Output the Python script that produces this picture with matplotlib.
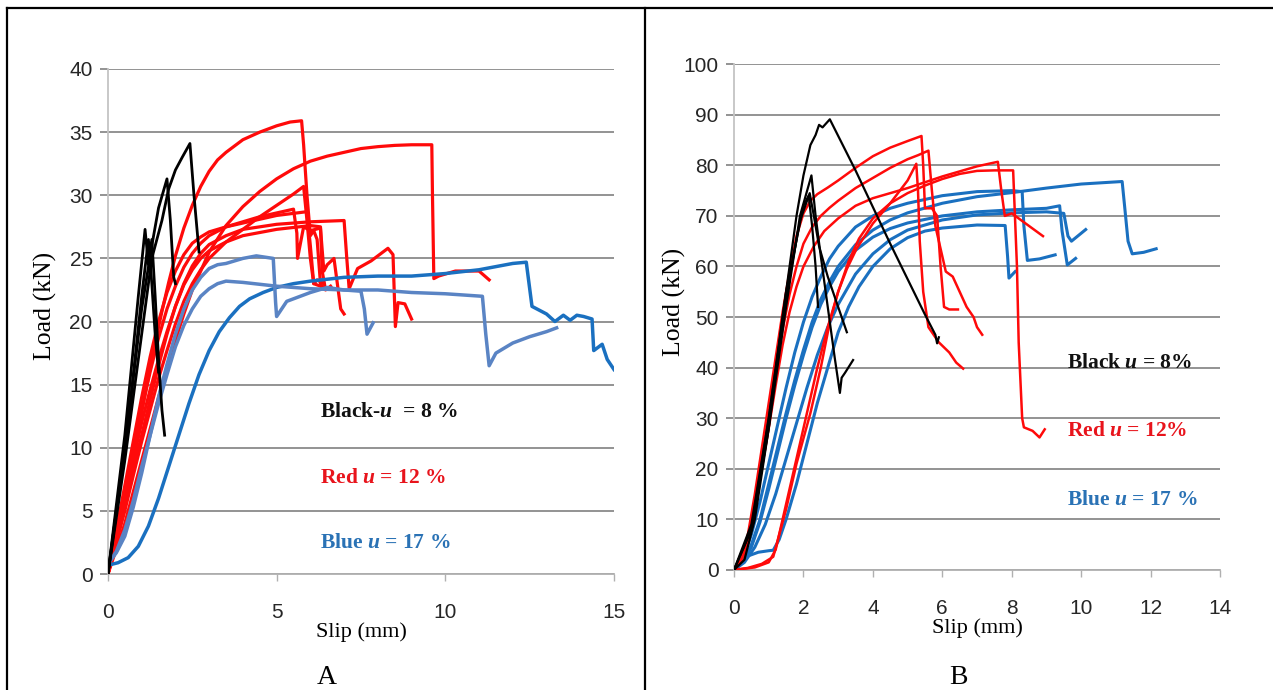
import matplotlib
matplotlib.use("Agg")
import matplotlib.pyplot as plt

# ---------------- panel A : slip (mm) vs load (kN) ----------------
a_xticks = [0, 5, 10, 15]
a_yticks = [0, 5, 10, 15, 20, 25, 30, 35, 40]

# black, u = 8 %
a_k1_x = [0, 0.5, 1.0, 1.3, 1.6, 1.8, 2.0, 2.2, 2.43, 2.55, 2.7]
a_k1_y = [0, 9, 19, 25, 28, 30.5, 32, 33, 34.1, 30, 25.5]
a_k2_x = [0, 0.5, 1.0, 1.3, 1.5, 1.75, 1.85, 1.95, 2.0]
a_k2_y = [0, 10, 21, 26, 29, 31.3, 28, 23.5, 23]
a_k3_x = [0, 0.5, 0.9, 1.1, 1.2, 1.3, 1.4, 1.5, 1.6, 1.68]
a_k3_y = [0, 11, 22, 27.3, 24.5, 26.5, 22, 17, 13, 11]
a_k4_x = [0, 0.6, 1.0, 1.2, 1.3, 1.4, 1.5]
a_k4_y = [0, 12, 22, 26.5, 23, 19, 16]

# red, u = 12 %
a_r1_x = [0, 0.2, 0.4, 0.6, 0.8, 1.0, 1.2, 1.4, 1.6, 1.8, 2.0, 2.25, 2.5, 2.75, 3.0, 3.25, 3.5, 3.75, 4.0, 4.5,
          5.0, 5.4, 5.74, 5.8, 5.9, 6.0, 6.1, 6.2, 6.3, 6.4]
a_r1_y = [0, 2.1, 4.5, 7.2, 10, 12.8, 15.6, 18.3, 20.8, 23.1, 25.2, 27.4, 29.2, 30.7, 31.9, 32.8, 33.4, 33.9, 34.4,
          35.0, 35.5, 35.8, 35.9, 34, 30, 26.8, 27.2, 26.5, 23, 22.6]
a_r2_x = [0, 0.25, 0.5, 0.75, 1, 1.25, 1.5, 1.75, 2, 2.25, 2.5, 2.75, 3, 3.5, 4, 4.5, 5, 5.5, 6, 6.5, 7, 7.5, 8,
          8.5, 9, 9.6, 9.62, 9.66, 9.8, 10.3, 11, 11.3]
a_r2_y = [0, 2, 4, 6.5, 9, 11.5, 14, 16.3, 18.5, 20.6, 22.5, 24, 25.5, 27.6, 29.1, 30.3, 31.3, 32.1, 32.7, 33.1,
          33.4, 33.7, 33.85, 33.95, 34, 34, 30, 23.4, 23.6, 24, 24, 23.3]
a_r3_x = [0, 0.25, 0.5, 0.75, 1, 1.25, 1.5, 1.75, 2, 2.25, 2.5, 2.75, 3, 3.5, 4, 4.5, 5, 5.5, 5.8, 5.9, 6.0, 6.1,
          6.2, 6.4]
a_r3_y = [0, 2.5, 5, 7.8, 10.5, 13, 15.5, 17.7, 19.8, 21.6, 23, 24.1, 25, 26.3, 27.3, 28.3, 29.2, 30.1, 30.7, 28,
          25, 23, 23.3, 23]
a_r4_x = [0, 0.25, 0.5, 0.75, 1, 1.25, 1.5, 1.75, 2, 2.25, 2.5, 2.75, 3, 3.5, 4, 5, 6, 7.0, 7.08, 7.15, 7.4, 7.8,
          8.3, 8.45, 8.52, 8.6, 8.8, 9.0]
a_r4_y = [0, 3, 6, 9, 12, 14.6, 17, 19.2, 21.2, 23, 24.4, 25.4, 26.1, 26.8, 27.3, 27.7, 27.9, 28, 25, 22.6, 24.2,
          24.8, 25.8, 25.3, 19.6, 21.5, 21.4, 20.2]
a_r5_x = [0, 0.25, 0.5, 0.75, 1, 1.25, 1.5, 1.75, 2, 2.25, 2.5, 2.75, 3, 3.5, 4, 4.5, 5, 5.5, 5.6, 5.62, 5.8, 6.0,
          6.3, 6.4, 6.5, 6.7, 6.8, 6.9, 7.0]
a_r5_y = [0, 3.2, 6.5, 9.8, 13, 16, 18.7, 21, 22.8, 24.3, 25.4, 26.2, 26.8, 27.5, 27.9, 28.3, 28.6, 28.9, 27, 25,
          27.5, 27.2, 27.4, 24, 24.5, 25, 23, 21, 20.6]
a_r6_x = [0, 0.25, 0.5, 0.75, 1, 1.25, 1.5, 1.75, 2, 2.25, 2.5, 2.75, 3, 3.5, 4, 5, 6, 6.3, 6.35, 6.45, 6.6]
a_r6_y = [0, 2.7, 5.5, 8.3, 11, 13.8, 16.5, 19, 21.2, 22.9, 24.1, 25, 25.6, 26.3, 26.8, 27.3, 27.6, 27.5, 24,
          22.5, 22.8]
a_r7_x = [0, 0.25, 0.5, 0.75, 1, 1.25, 1.5, 1.75, 2, 2.25, 2.5, 2.75, 3, 3.5, 4, 5, 5.9, 6.0, 6.1, 6.3]
a_r7_y = [0, 3.5, 7, 10.5, 14, 17.2, 20, 22.3, 24, 25.3, 26.2, 26.7, 27.1, 27.5, 27.8, 28.4, 28.7, 26, 23, 22.8]

# blue, u = 17 %
a_b1_x = [0, 0.3, 0.6, 0.9, 1.2, 1.5, 1.8, 2.1, 2.4, 2.7, 3.0, 3.3, 3.6, 3.9, 4.2, 4.6, 5.0, 5.5, 6, 7, 8, 9, 10,
          11, 12, 12.4, 12.57, 13.0, 13.25, 13.5, 13.7, 13.9, 14.1, 14.35, 14.4, 14.65, 14.8, 15.0]
a_b1_y = [0.7, 0.9, 1.3, 2.2, 3.8, 6, 8.5, 11, 13.5, 15.8, 17.7, 19.2, 20.3, 21.2, 21.8, 22.3, 22.7, 23.0, 23.2,
          23.5, 23.6, 23.6, 23.8, 24.1, 24.6, 24.7, 21.2, 20.6, 20.0, 20.5, 20.1, 20.5, 20.4, 20.2, 17.7, 18.2,
          17.0, 16.2]
a_b2_x = [0, 0.25, 0.5, 0.75, 1, 1.25, 1.5, 1.75, 2, 2.25, 2.5, 2.75, 3, 3.25, 3.5, 4, 5, 6, 7, 8, 9, 10, 11.1,
          11.2, 11.3, 11.5, 12, 12.5, 13, 13.3]
a_b2_y = [0.8, 1.8, 3.5, 5.8, 8.5, 11, 13.5, 15.8, 18, 19.7, 21, 22, 22.6, 23, 23.2, 23.1, 22.8, 22.6, 22.5, 22.5,
          22.3, 22.2, 22.0, 19, 16.5, 17.5, 18.3, 18.8, 19.2, 19.5]
a_b3_x = [0, 0.25, 0.5, 0.75, 1, 1.25, 1.5, 1.75, 2, 2.25, 2.5, 2.75, 3, 3.25, 3.5, 4, 4.4, 4.9, 4.97, 5.0, 5.3,
          6, 6.5, 7, 7.5, 7.6, 7.68, 7.86]
a_b3_y = [0.8, 1.7, 3, 5.3, 8, 11, 14, 16.6, 19, 21, 22.5, 23.5, 24.2, 24.5, 24.6, 25, 25.2, 25.0, 21.5, 20.4,
          21.6, 22.3, 22.7, 22.5, 22.4, 21, 19, 19.9]

# ---------------- panel B ----------------
b_xticks = [0, 2, 4, 6, 8, 10, 12, 14]
b_yticks = [0, 10, 20, 30, 40, 50, 60, 70, 80, 90, 100]

b_k1_x = [0, 0.3, 0.6, 1.0, 1.4, 1.8, 2.0, 2.2, 2.35, 2.45, 2.55, 2.76, 3.5, 4.5, 5.5, 5.8, 5.85, 5.9]
b_k1_y = [0, 2, 10, 28, 50, 70, 78, 84, 86, 88, 87.5, 89.1, 79, 64.5, 50.5, 46.5, 44.8, 46]
b_k2_x = [0, 0.5, 1.0, 1.5, 1.9, 2.23, 2.35, 2.5, 2.7, 2.9, 3.05, 3.1, 3.2, 3.43]
b_k2_y = [0, 8, 28, 52, 70, 78, 70, 62, 52, 42, 35, 38, 39, 41.5]
b_k3_x = [0, 0.5, 1.0, 1.5, 1.9, 2.18, 2.3, 2.45, 2.7, 3.0, 3.25]
b_k3_y = [0, 9, 30, 54, 69, 74.5, 70, 64, 58, 52, 47]
b_k4_x = [0, 0.5, 1.0, 1.5, 2.0, 2.15, 2.25, 2.35, 2.42]
b_k4_y = [0, 8, 30, 55, 72, 74, 68, 60, 52]

b_r1_x = [0, 0.2, 0.4, 0.6, 0.8, 1.0, 1.2, 1.4, 1.6, 1.8, 2.0, 2.2, 2.4, 2.7, 3.0, 3.5, 4.0, 4.5, 5.0, 5.4, 5.45,
          5.5, 5.7, 5.85, 5.95, 6.05, 6.2, 6.45]
b_r1_y = [0, 2, 7, 15, 24, 33, 42, 51, 59, 66, 70.5, 73, 74.3, 75.6, 77, 79.5, 81.8, 83.5, 84.8, 85.8, 80, 71.5,
          71.5, 70, 60, 52, 51.5, 51.5]
b_r2_x = [0, 0.2, 0.4, 0.6, 0.8, 1.0, 1.2, 1.4, 1.6, 1.8, 2.0, 2.25, 2.5, 2.75, 3.0, 3.5, 4.0, 4.5, 5.0, 5.3, 5.6,
          5.7, 5.8, 6.0, 6.1, 6.3, 6.5, 6.7, 6.9, 7.0, 7.15]
b_r2_y = [0, 1.5, 6, 13, 21, 30, 39, 47.5, 54.5, 60, 64.5, 67.8, 70, 71.6, 73, 75.5, 77.5, 79.5, 81.2, 82, 82.9,
          75, 68, 62, 59, 58, 55, 52, 50, 48, 46.5]
b_r3_x = [0, 0.4, 0.8, 1.13, 1.5, 1.8, 2.2, 2.5, 2.76, 3.0, 3.25, 3.53, 4.0, 4.5, 5.0, 5.25, 5.3, 5.35, 5.45, 5.6,
          5.9, 6.2, 6.4, 6.6]
b_r3_y = [0, 0.4, 1.2, 2.6, 12, 21, 31, 40, 49, 55, 59.5, 63.5, 68.5, 72.5, 77, 80.3, 75, 65, 55, 48, 45, 43, 41,
          39.8]
b_r4_x = [0, 0.2, 0.4, 0.6, 0.8, 1.0, 1.2, 1.4, 1.6, 1.8, 2.0, 2.3, 2.6, 3.0, 3.5, 4.0, 5.0, 6.0, 7.0, 7.6, 7.7,
          7.8, 8.0, 8.3, 8.6, 8.9]
b_r4_y = [0, 1.5, 5.5, 12, 20, 28, 36.5, 44.5, 51, 56, 60, 64, 67, 69.5, 72, 73.5, 75.5, 77.8, 79.8, 80.7, 75, 70,
          70.5, 69, 67.5, 66]
b_r5_x = [0, 0.6, 1.0, 1.2, 1.5, 1.8, 2.1, 2.4, 2.7, 3.0, 3.3, 3.6, 4.0, 4.5, 5.0, 5.5, 6.0, 6.5, 7.0, 7.5, 8.04,
          8.15, 8.2, 8.3, 8.35, 8.6, 8.8, 8.95]
b_r5_y = [0, 0.5, 1.5, 4, 13, 22, 31, 40, 48, 55, 61, 65.5, 69.5, 72.5, 74.5, 76, 77.3, 78.3, 78.9, 79, 79, 60,
          45, 30, 28.2, 27.5, 26.2, 27.8]

b_b1_x = [0, 0.25, 0.5, 0.75, 1.0, 1.25, 1.5, 1.75, 2.0, 2.25, 2.5, 2.75, 3.0, 3.5, 4.0, 4.5, 5.0, 6.0, 7.0, 8.0,
          9.0, 10.0, 11.18, 11.25, 11.35, 11.47, 11.8, 12.16]
b_b1_y = [0, 1.5, 5, 10, 17, 24, 31, 37.5, 43.5, 49, 53.5, 57, 60, 64.3, 67.2, 69.2, 70.6, 72.5, 73.8, 74.6, 75.5,
          76.3, 76.8, 72, 65, 62.5, 62.8, 63.5]
b_b2_x = [0, 0.25, 0.5, 0.75, 1.0, 1.25, 1.5, 1.75, 2.0, 2.25, 2.5, 2.75, 3.0, 3.5, 4.0, 4.5, 5.0, 6.0, 7.0, 8.0,
          8.3, 8.35, 8.45, 8.8, 9.25]
b_b2_y = [0, 2, 7, 13.5, 21, 28.5, 36, 43, 49, 54, 58, 61.5, 64, 67.8, 70, 71.5, 72.5, 74, 74.8, 75, 74.8, 68,
          61.2, 61.5, 62.3]
b_b3_x = [0, 0.25, 0.5, 0.75, 1.0, 1.25, 1.5, 1.75, 2.0, 2.25, 2.5, 2.75, 3.0, 3.5, 4.0, 4.5, 5.0, 6, 7, 8, 9,
          9.38, 9.45, 9.6, 9.84]
b_b3_y = [0, 1.5, 4.5, 9.5, 16, 23, 30, 36.5, 42.5, 48, 52.5, 56, 59, 63.2, 65.8, 67.5, 68.6, 70, 70.8, 71.2,
          71.5, 72, 67, 60.3, 61.6]
b_b4_x = [0, 0.3, 0.6, 0.9, 1.2, 1.5, 1.8, 2.1, 2.4, 2.7, 3.0, 3.5, 4.0, 4.5, 5, 6, 7, 8, 9, 9.5, 9.62, 9.72,
          10.13]
b_b4_y = [0, 1.5, 4.5, 9, 15, 22, 29, 36, 42.5, 48, 52.5, 58.5, 62.5, 65.3, 67.2, 69.2, 70.2, 70.6, 70.8, 70.5,
          66, 65, 67.3]
b_b5_x = [0, 0.3, 0.7, 1.0, 1.13, 1.3, 1.5, 1.8, 2.1, 2.4, 2.7, 3.0, 3.3, 3.6, 4.0, 4.5, 5.0, 5.5, 6.0, 7.0,
          7.81, 7.88, 7.92, 8.1]
b_b5_y = [0, 2.5, 3.5, 3.8, 3.9, 6, 10, 17, 25, 33, 40, 47, 52, 56, 60, 63.5, 65.7, 67, 67.6, 68.2, 68.1, 62,
          57.7, 59]

# text notes
a_notes = ["Black-$u$  = 8 %", "Red $u$ = 12 %", "Blue $u$ = 17 %"]
a_note_y = [12.8, 7.6, 2.5]
b_notes = ["Black $u$ = 8%", "Red $u$ = 12%", "Blue $u$ = 17 %"]
b_note_y = [41, 27.4, 13.9]

BLACK = "#000000"
RED = "#ff0a0a"
BLUE = "#1a70c0"
LBLUE = "#5a84c4"
NOTE_COLORS = ["#111111", "#e8141c", "#2a72b5"]

plt.rcParams["mathtext.fontset"] = "custom"
plt.rcParams["mathtext.it"] = "Liberation Serif:bold:italic"
plt.rcParams["mathtext.rm"] = "Liberation Serif:bold"

TICKFONT = ["Liberation Sans", "DejaVu Sans"]
SERIF = ["Liberation Serif", "DejaVu Serif"]

fig = plt.figure(figsize=(12.73, 6.90), dpi=100)
axA = fig.add_axes([0.0848, 0.168, 0.3975, 0.732])
axB = fig.add_axes([0.5766, 0.174, 0.3818, 0.733])


def style_axes(ax, xticks, yticks, ylab_x):
    ax.set_xlim(xticks[0], xticks[-1])
    ax.set_ylim(yticks[0], yticks[-1])
    ax.set_xticks(xticks)
    ax.set_yticks(yticks)
    ax.yaxis.grid(True, color="#8a8a8a", linewidth=1.3)
    ax.set_axisbelow(True)
    for s in ["top", "right"]:
        ax.spines[s].set_visible(False)
    ax.spines["left"].set_color("#c4c4c4")
    ax.spines["bottom"].set_color("#b0b0b0")
    ax.spines["left"].set_linewidth(1.3)
    ax.spines["bottom"].set_linewidth(1.3)
    ax.tick_params(axis="y", length=6, width=1.3, color="#8a8a8a", pad=5)
    ax.tick_params(axis="x", length=5, width=1.0, color="#b0b0b0", pad=16)
    for lab in ax.get_xticklabels() + ax.get_yticklabels():
        lab.set_family(TICKFONT)
        lab.set_fontsize(15)
        lab.set_color("#262626")
    ax.set_xlabel("Slip (mm)", family=SERIF, fontsize=16, labelpad=0)
    ax.set_ylabel("Load (kN)", family=SERIF, fontsize=18.5)
    ax.yaxis.set_label_coords(ylab_x, 0.53)


style_axes(axA, a_xticks, a_yticks, -0.10)
style_axes(axB, b_xticks, b_yticks, -0.098)

lwA = 2.3
for x, y in [(a_r1_x, a_r1_y), (a_r2_x, a_r2_y), (a_r3_x, a_r3_y), (a_r4_x, a_r4_y),
             (a_r5_x, a_r5_y), (a_r6_x, a_r6_y), (a_r7_x, a_r7_y)]:
    axA.plot(x, y, color=RED, lw=lwA, zorder=3)
for x, y, c in [(a_b1_x, a_b1_y, BLUE), (a_b2_x, a_b2_y, LBLUE), (a_b3_x, a_b3_y, LBLUE)]:
    axA.plot(x, y, color=c, lw=lwA + 0.2, zorder=3)
for x, y in [(a_k1_x, a_k1_y), (a_k2_x, a_k2_y), (a_k3_x, a_k3_y), (a_k4_x, a_k4_y)]:
    axA.plot(x, y, color=BLACK, lw=2.0, zorder=4)

lwB = 1.8
for x, y in [(b_b1_x, b_b1_y), (b_b2_x, b_b2_y), (b_b3_x, b_b3_y), (b_b4_x, b_b4_y), (b_b5_x, b_b5_y)]:
    axB.plot(x, y, color=BLUE, lw=lwB + 0.4, zorder=3)
for x, y in [(b_r1_x, b_r1_y), (b_r2_x, b_r2_y), (b_r3_x, b_r3_y), (b_r4_x, b_r4_y), (b_r5_x, b_r5_y)]:
    axB.plot(x, y, color=RED, lw=lwB, zorder=3)
for x, y in [(b_k1_x, b_k1_y), (b_k2_x, b_k2_y), (b_k3_x, b_k3_y), (b_k4_x, b_k4_y)]:
    axB.plot(x, y, color=BLACK, lw=lwB - 0.2, zorder=4)

for t, y, c in zip(a_notes, a_note_y, NOTE_COLORS):
    axA.text(6.29, y, t, color=c, family=SERIF, fontweight="bold", fontsize=15.5, va="center", ha="left")
for t, y, c in zip(b_notes, b_note_y, NOTE_COLORS):
    axB.text(9.6, y, t, color=c, family=SERIF, fontweight="bold", fontsize=15.5, va="center", ha="left")

# panel letters and table borders
fig.text(327 / 1273, 1 - 678 / 690, "A", family=SERIF, fontsize=20, ha="center", va="center")
fig.text(958 / 1273, 1 - 678 / 690, "B", family=SERIF, fontsize=20, ha="center", va="center")
fig.add_artist(plt.Line2D([7 / 1273, 7 / 1273], [0, 1 - 8 / 690], color="black", lw=1.6))
fig.add_artist(plt.Line2D([645 / 1273, 645 / 1273], [0, 1 - 8 / 690], color="black", lw=1.6))
fig.add_artist(plt.Line2D([7 / 1273, 1], [1 - 8 / 690, 1 - 8 / 690], color="black", lw=1.6))

fig.savefig("out.png", dpi=100)
